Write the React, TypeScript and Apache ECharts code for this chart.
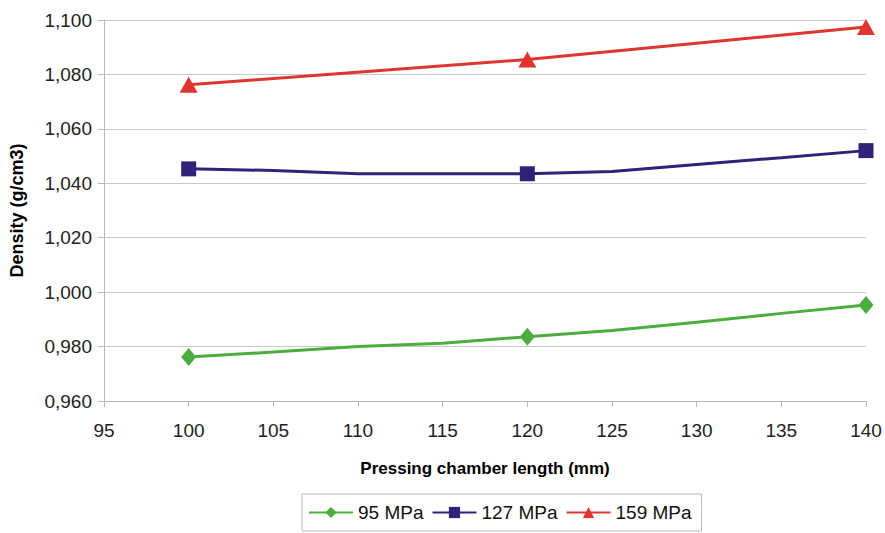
import React, { useEffect, useRef } from "react";
import * as echarts from "echarts";

const xValues = [100, 105, 110, 115, 120, 125, 130, 135, 140];
const markerX = [100, 120, 140];
const mpa95 = [0.9762, 0.978, 0.98, 0.9812, 0.9836, 0.9859, 0.9889, 0.9922, 0.9953];
const mpa127 = [1.0453, 1.0447, 1.0435, 1.0435, 1.0435, 1.0443, 1.0469, 1.0494, 1.052];
const mpa159 = [1.0762, null, null, null, 1.0855, null, null, null, 1.0974];
const seriesNames = ["95 MPa", "127 MPa", "159 MPa"];

const buildData = (vals: (number | null)[]) =>
  xValues
    .map((x, i) => ({ x, v: vals[i] }))
    .filter((d) => d.v !== null)
    .map((d) => ({
      value: [d.x, d.v],
      symbol: markerX.includes(d.x) ? undefined : "none",
    }));

export default function App() {
  const ref = useRef<HTMLDivElement>(null);
  useEffect(() => {
    if (!ref.current) return;
    const chart = echarts.init(ref.current, undefined, { renderer: "svg" });
    const font = "Liberation Sans, Arial, sans-serif";
    const mk = (name: string, vals: (number | null)[], color: string, symbol: string, size: any) => ({
      name,
      type: "line",
      data: buildData(vals),
      symbol,
      symbolSize: size,
      showAllSymbol: true,
      connectNulls: true,
      lineStyle: { color, width: 3 },
      itemStyle: { color },
    });
    chart.setOption({
      animation: false,
      backgroundColor: "#fff",
      grid: { left: 103, right: 19, top: 20, bottom: 132 },
      xAxis: {
        type: "value",
        min: 95,
        max: 140,
        interval: 5,
        name: "Pressing chamber length (mm)",
        nameLocation: "middle",
        nameGap: 59,
        nameTextStyle: { fontFamily: font, fontWeight: "bold", fontSize: 17, color: "#000" },
        axisLine: { show: true, lineStyle: { color: "#b8b8b8" } },
        axisTick: { show: true, length: 6, lineStyle: { color: "#b8b8b8" } },
        axisLabel: { fontFamily: font, fontSize: 19, color: "#222", margin: 20 },
        splitLine: { show: false },
      },
      yAxis: {
        type: "value",
        min: 0.96,
        max: 1.1,
        interval: 0.02,
        name: "Density (g/cm3)",
        nameLocation: "middle",
        nameGap: 78,
        nameRotate: 90,
        nameTextStyle: { fontFamily: font, fontWeight: "bold", fontSize: 18, color: "#000" },
        axisLine: { show: true, lineStyle: { color: "#b8b8b8" } },
        axisTick: { show: true, length: 6, lineStyle: { color: "#b8b8b8" } },
        axisLabel: {
          fontFamily: font,
          fontSize: 19,
          color: "#222",
          margin: 12,
          formatter: (v: number) => v.toFixed(3).replace(".", ","),
        },
        splitLine: { show: true, lineStyle: { color: "#c8c8c8", width: 1 } },
      },
      legend: {
        left: 302,
        top: 494,
        borderColor: "#b8b8b8",
        borderWidth: 1,
        borderRadius: 0,
        padding: [9, 10, 9, 6],
        itemGap: 8,
        itemWidth: 44,
        itemHeight: 14,
        textStyle: { fontFamily: font, fontSize: 19, color: "#111" },
        data: seriesNames,
      },
      series: [
        mk(seriesNames[0], mpa95, "#4aad3e", "diamond", [15, 18]),
        mk(seriesNames[1], mpa127, "#2e2378", "rect", 15),
        mk(seriesNames[2], mpa159, "#e0352f", "triangle", [18, 16]),
      ],
    });
    return () => chart.dispose();
  }, []);
  return <div ref={ref} style={{ width: 885, height: 533, position: "absolute", left: 0, top: 0 }} />;
}
